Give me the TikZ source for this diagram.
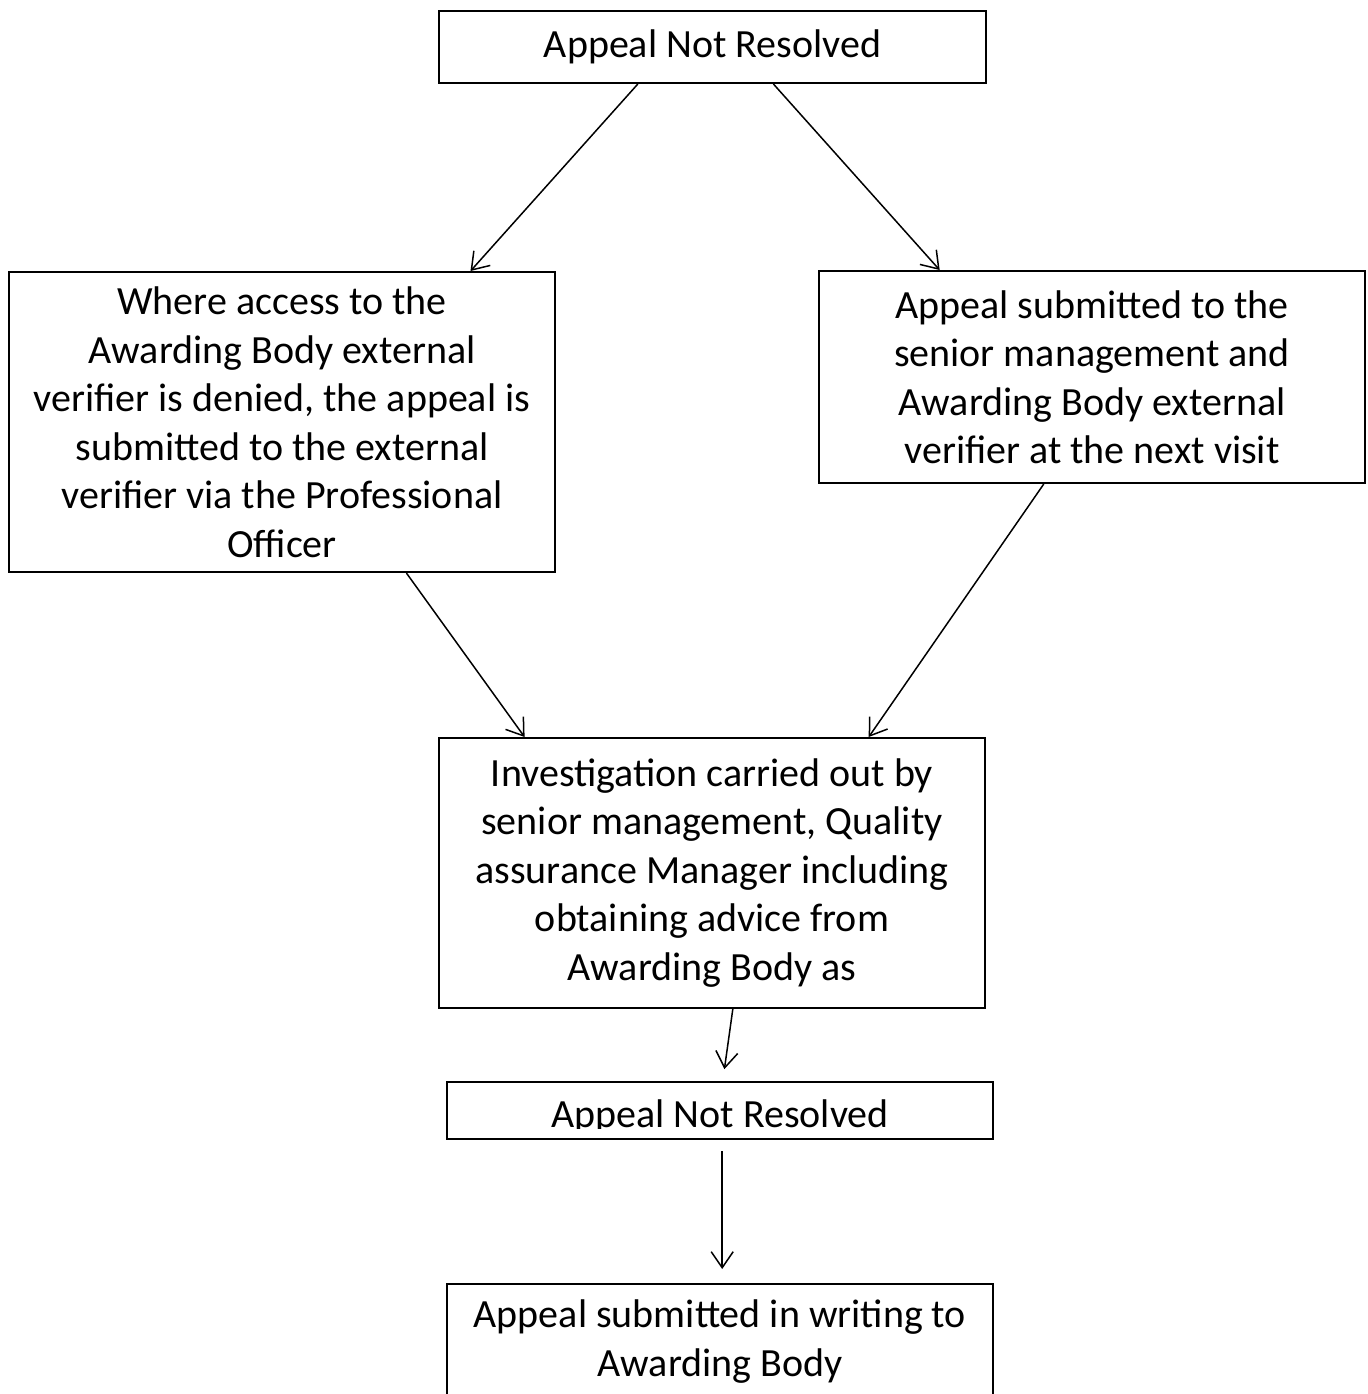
\documentclass[tikz,border=0pt]{standalone}
\usepackage{fontspec}
\setmainfont{Carlito}
\usetikzlibrary{arrows.meta,calc}

\begin{document}
\begin{tikzpicture}[x=0.5pt,y=-0.5pt,
  boite/.style={draw, line width=1pt, align=center, inner sep=0pt,
    minimum width=273pt, font=\fontsize{20}{24.25}\selectfont},
  texte/.style={inner sep=0pt, font=\fontsize{20}{24.25}\selectfont},
  fleche/.style={-{Straight Barb[length=8pt,width=11pt]}, line width=0.75pt}]
  \useasboundingbox (0,0) rectangle (1368,1394);
  \clip (0,0) rectangle (1368,1394);

  % Boîtes du haut
  \node[boite, minimum width=273.5pt, minimum height=36pt] (depart) at (712.5,47) {Appeal Not Resolved};
  \node[boite, minimum height=150pt] (refus) at (282,422)
    {Where access to the\\ Awarding Body external\\ verifier is denied, the appeal is\\
     submitted to the external\\ verifier via the Professional\\ Officer};
  \node[boite, minimum height=106pt] (visite) at (1092,377)
    {Appeal submitted to the\\ senior management and\\ Awarding Body external\\ verifier at the next visit};

  % Enquête
  \node[boite, minimum height=135pt] (enquete) at (712,873)
    {Investigation carried out by\\ senior management, Quality\\ assurance Manager including\\
     obtaining advice from\\ Awarding Body as};

  % Boîtes du bas
  \node[boite, minimum height=28.5pt] (nonresolu) at (720,1110.5) {};
  \begin{scope}
    \clip (447,1082) rectangle (993,1128);
    \node[texte, anchor=base] (nonresolutxt) at (720,1127) {Appeal Not Resolved};
  \end{scope}
  \node[boite, minimum height=57.5pt] (ecrit) at (720,1341.5)
    {Appeal submitted in writing to\\ Awarding Body};

  % Flèches
  \draw[fleche] ($(depart.south west)!0.364!(depart.south east)$) -- ($(refus.north west)!0.844!(refus.north east)$);
  \draw[fleche] ($(depart.south west)!0.611!(depart.south east)$) -- ($(visite.north west)!0.222!(visite.north east)$);
  \draw[fleche] ($(refus.south west)!0.727!(refus.south east)$) -- ($(enquete.north west)!0.158!(enquete.north east)$);
  \draw[fleche] ($(visite.south west)!0.412!(visite.south east)$) -- ($(enquete.north west)!0.786!(enquete.north east)$);
  \draw[fleche, shorten >=6pt] ($(enquete.south west)!0.538!(enquete.south east)$) -- ($(nonresolu.north west)!0.505!(nonresolu.north east)$);
  \draw[fleche, shorten <=5.5pt, shorten >=7pt] ($(nonresolu.south west)!0.504!(nonresolu.south east)$) -- ($(ecrit.north west)!0.504!(ecrit.north east)$);
\end{tikzpicture}
\end{document}
